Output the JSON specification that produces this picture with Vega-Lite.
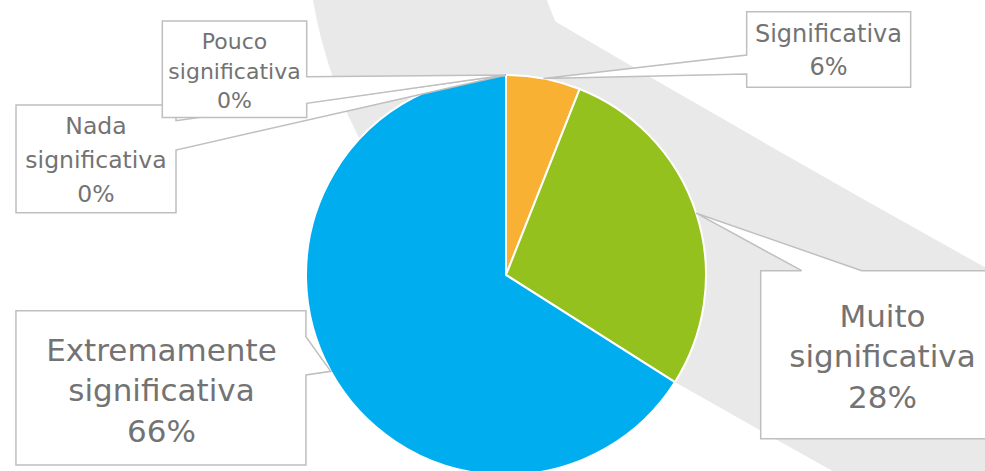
{
  "$schema": "https://vega.github.io/schema/vega-lite/v6.json",
  "width": 1012,
  "height": 550,
  "autosize": {"type": "none"},
  "padding": 0,
  "background": "white",
  "config": {"view": {"stroke": null}},
  "layer": [
    {
      "data": {"values": [{"part": "swoosh top"}]},
      "mark": {"type": "arc", "fill": "#E9E9E9", "innerRadius": 245, "outerRadius": 472.6, "theta": 3.316, "theta2": 5.149},
      "encoding": {
        "x": {"datum": 1.365, "type": "quantitative", "scale": {"domain": [-2.53, 2.53], "nice": false, "zero": false}, "axis": null},
        "y": {"datum": 1.768, "type": "quantitative", "scale": {"domain": [-1.375, 1.375], "nice": false, "zero": false}, "axis": null}
      }
    },
    {
      "data": {"values": [{"part": "swoosh diagonal"}]},
      "mark": {"type": "arc", "fill": "#E9E9E9", "innerRadius": 19873.9, "outerRadius": 20126.1, "theta": 3.62896, "theta2": 3.67429},
      "encoding": {
        "x": {"datum": 50.6785, "type": "quantitative", "scale": {"domain": [-2.53, 2.53], "nice": false, "zero": false}, "axis": null},
        "y": {"datum": 86.889, "type": "quantitative", "scale": {"domain": [-1.375, 1.375], "nice": false, "zero": false}, "axis": null}
      }
    },
    {
      "data": {
        "values": [
          {"category": "Nada significativa", "value": 0, "order": 1},
          {"category": "Pouco significativa", "value": 0, "order": 2},
          {"category": "Significativa", "value": 6, "order": 3},
          {"category": "Muito significativa", "value": 28, "order": 4},
          {"category": "Extremamente significativa", "value": 66, "order": 5}
        ]
      },
      "transform": [
        {"window": [{"op": "sum", "field": "value", "as": "cum"}], "sort": [{"field": "order", "order": "ascending"}], "frame": [null, 0]},
        {"joinaggregate": [{"op": "sum", "field": "value", "as": "total"}]},
        {"calculate": "(datum.cum - datum.value / 2) / datum.total * 2 * PI", "as": "mid"},
        {"calculate": "sin(datum.mid)", "as": "ax"},
        {"calculate": "cos(datum.mid)", "as": "ay"},
        {"calculate": "split(datum.category + ' ' + datum.value + '%', ' ')", "as": "lines"}
      ],
      "layer": [
        {
          "mark": {"type": "arc", "outerRadius": 200, "stroke": "white", "strokeWidth": 2},
          "encoding": {
            "theta": {"field": "value", "type": "quantitative", "stack": true},
            "order": {"field": "order", "type": "quantitative"},
            "color": {
              "field": "category", "type": "nominal",
              "scale": {
                "domain": ["Nada significativa", "Pouco significativa", "Significativa", "Muito significativa", "Extremamente significativa"],
                "range": ["#A5A5A5", "#5B9BD5", "#F8B133", "#95C11F", "#00AEEF"]
              },
              "legend": null
            }
          }
        },
        {
          "mark": {"type": "point", "size": 4, "fill": "white", "stroke": "#BFBFBF", "strokeWidth": 1.5, "opacity": 1, "filled": false},
          "encoding": {
            "x": {"field": "ax", "type": "quantitative", "scale": {"domain": [-2.53, 2.53], "nice": false, "zero": false}, "axis": null},
            "y": {"field": "ay", "type": "quantitative", "scale": {"domain": [-1.375, 1.375], "nice": false, "zero": false}, "axis": null},
            "order": {"field": "order", "type": "quantitative"},
            "shape": {
              "field": "category", "type": "nominal",
              "scale": {
                "domain": ["Nada significativa", "Pouco significativa", "Significativa", "Muito significativa", "Extremamente significativa"],
                "range": [
                  "M-490,30H-330V45.7L0,0L-330,75V137.7H-490Z",
                  "M-343.7,-54H-199.3V1.7L0,0L-199.3,28.3V42.5H-343.7Z",
                  "M203.2,-66.8H367.2V8.8H203.2V-4.5L0,0L203.2,-23.5Z",
                  "M64.5,57.5H105.5L0,0L165.5,57.5H308.1V225.5H64.5Z",
                  "M-314.8,-60.7H-24.8V-34.7L0,0L-24.8,3.6V93.6H-314.8Z"
                ]
              },
              "legend": null
            }
          }
        },
        {
          "transform": [{"filter": "datum.category === 'Nada significativa'"}],
          "mark": {"type": "text", "font": "DejaVu Sans", "fontSize": 23.5, "lineHeight": 34, "color": "#737373", "align": "center", "baseline": "middle", "dx": -410, "dy": 52},
          "encoding": {
            "x": {"field": "ax", "type": "quantitative", "scale": {"domain": [-2.53, 2.53], "nice": false, "zero": false}, "axis": null},
            "y": {"field": "ay", "type": "quantitative", "scale": {"domain": [-1.375, 1.375], "nice": false, "zero": false}, "axis": null},
            "text": {"field": "lines"}
          }
        },
        {
          "transform": [{"filter": "datum.category === 'Pouco significativa'"}],
          "mark": {"type": "text", "font": "DejaVu Sans", "fontSize": 22, "lineHeight": 29.6, "color": "#737373", "align": "center", "baseline": "middle", "dx": -271.5, "dy": -33},
          "encoding": {
            "x": {"field": "ax", "type": "quantitative", "scale": {"domain": [-2.53, 2.53], "nice": false, "zero": false}, "axis": null},
            "y": {"field": "ay", "type": "quantitative", "scale": {"domain": [-1.375, 1.375], "nice": false, "zero": false}, "axis": null},
            "text": {"field": "lines"}
          }
        },
        {
          "transform": [{"filter": "datum.category === 'Significativa'"}],
          "mark": {"type": "text", "font": "DejaVu Sans", "fontSize": 24, "lineHeight": 33, "color": "#737373", "align": "center", "baseline": "middle", "dx": 285, "dy": -43.5},
          "encoding": {
            "x": {"field": "ax", "type": "quantitative", "scale": {"domain": [-2.53, 2.53], "nice": false, "zero": false}, "axis": null},
            "y": {"field": "ay", "type": "quantitative", "scale": {"domain": [-1.375, 1.375], "nice": false, "zero": false}, "axis": null},
            "text": {"field": "lines"}
          }
        },
        {
          "transform": [{"filter": "datum.category === 'Muito significativa'"}],
          "mark": {"type": "text", "font": "DejaVu Sans", "fontSize": 31, "lineHeight": 40.5, "color": "#737373", "align": "center", "baseline": "middle", "dx": 186.3, "dy": 104.6},
          "encoding": {
            "x": {"field": "ax", "type": "quantitative", "scale": {"domain": [-2.53, 2.53], "nice": false, "zero": false}, "axis": null},
            "y": {"field": "ay", "type": "quantitative", "scale": {"domain": [-1.375, 1.375], "nice": false, "zero": false}, "axis": null},
            "text": {"field": "lines"}
          }
        },
        {
          "transform": [{"filter": "datum.category === 'Extremamente significativa'"}],
          "mark": {"type": "text", "font": "DejaVu Sans", "fontSize": 31, "lineHeight": 40.7, "color": "#737373", "align": "center", "baseline": "middle", "dx": -169.3, "dy": -19.8},
          "encoding": {
            "x": {"field": "ax", "type": "quantitative", "scale": {"domain": [-2.53, 2.53], "nice": false, "zero": false}, "axis": null},
            "y": {"field": "ay", "type": "quantitative", "scale": {"domain": [-1.375, 1.375], "nice": false, "zero": false}, "axis": null},
            "text": {"field": "lines"}
          }
        }
      ]
    }
  ]
}
